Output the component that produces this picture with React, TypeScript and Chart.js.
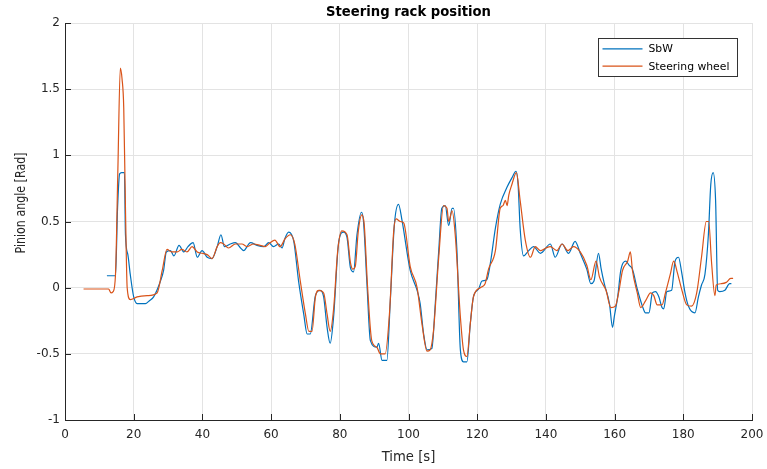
import React, { useEffect, useRef } from "react";
import { Chart, registerables } from "chart.js";

Chart.register(...registerables);

const chartTitle = "Steering rack position";
const xAxisLabel = "Time [s]";
const yAxisLabel = "Pinion angle [Rad]";
const seriesNames = ["SbW", "Steering wheel"];

const sbwTime = [
  12.2, 14.7, 15.3, 15.9, 16.5, 17.3, 17.6, 18.3, 19.0, 20.0, 21.0, 23.4, 24.5, 25.8, 27.8, 28.7,
  29.5, 30.7, 31.7, 33.2, 34.6, 35.8, 37.3, 38.5, 39.9, 41.4, 42.8, 44.3, 45.4, 46.4, 48.1, 49.6,
  51.1, 52.0, 54.0, 55.9, 57.9, 59.3, 60.7, 62.2, 63.2, 64.0, 65.1, 66.6, 68.0, 69.5, 70.5, 71.4,
  72.9, 74.3, 75.3, 76.3, 77.2, 78.2, 79.7, 81.1, 82.1, 83.1, 84.0, 85.0, 86.3, 86.9, 87.9, 88.9,
  90.8, 91.3, 92.3, 93.7, 94.7, 95.9, 97.1, 98.1, 100.5, 102.5, 103.4, 104.4, 105.4, 106.8, 107.8,
  108.8, 109.7, 110.7, 111.7, 112.7, 113.1, 114.1, 115.1, 116.0, 117.0, 118.0, 118.9, 120.4, 121.4,
  122.8, 123.8, 125.3, 126.7, 128.7, 130.1, 131.3, 131.9, 132.5, 133.5, 135.0, 136.4, 138.4, 141.3,
  142.7, 144.7, 146.6, 148.5, 150.0, 151.9, 153.1, 154.0, 155.3, 156.1, 157.0, 158.5, 159.4, 159.9,
  160.9, 161.8, 163.3, 164.2, 165.2, 166.6, 168.1, 169.0, 170.0, 171.0, 171.9, 172.9, 173.8, 174.3,
  175.2, 176.6, 177.6, 178.6, 179.5, 180.5, 181.5, 183.4, 184.4, 185.3, 186.3, 187.3, 188.0, 188.7,
  189.4, 190.0, 190.6, 192.1, 193.5, 194.0,
];
const sbwAngle = [
  0.09, 0.09, 0.6, 0.86, 0.87, 0.87, 0.4, 0.25, 0.1, -0.07, -0.12, -0.12, -0.1, -0.07, 0.05, 0.13,
  0.27, 0.28, 0.24, 0.32, 0.27, 0.31, 0.34, 0.23, 0.28, 0.23, 0.22, 0.31, 0.4, 0.31, 0.33, 0.34,
  0.3, 0.28, 0.34, 0.32, 0.31, 0.34, 0.31, 0.33, 0.3, 0.37, 0.42, 0.35, 0.05, -0.2, -0.35, -0.35,
  -0.06, -0.02, -0.07, -0.3, -0.42, -0.22, 0.35, 0.42, 0.38, 0.15, 0.12, 0.4, 0.57, 0.5, 0.03, -0.4,
  -0.45, -0.42, -0.55, -0.55, -0.1, 0.48, 0.63, 0.51, 0.13, -0.02, -0.12, -0.35, -0.47, -0.46, -0.12,
  0.28, 0.6, 0.62, 0.47, 0.6, 0.6, 0.28, -0.47, -0.56, -0.56, -0.27, -0.07, -0.01, 0.05,
  0.06, 0.18, 0.45, 0.63, 0.76, 0.83, 0.88, 0.78, 0.45, 0.24, 0.28, 0.31, 0.26, 0.33,
  0.23, 0.33, 0.26, 0.35, 0.26, 0.14, 0.03, 0.05, 0.26, 0.14, 0.03, -0.12, -0.3, -0.22,
  -0.07, 0.13, 0.2, 0.17, 0.14, -0.01, -0.14, -0.19, -0.19, -0.04, -0.03, -0.07, -0.15, -0.16,
  -0.03, -0.02, 0.2, 0.23, 0.12, -0.04, -0.14, -0.19, -0.07, 0.02, 0.1, 0.4, 0.78, 0.87,
  0.66, -0.02, -0.03, -0.02, 0.03, 0.03,
];

const wheelTime = [
  5.4, 12.7, 13.4, 14.0, 14.7, 15.4, 16.1, 16.6, 17.1, 17.6, 18.1, 19.0, 21.0, 23.9, 26.8, 28.3,
  29.7, 31.0, 32.7, 34.0, 35.5, 37.0, 38.5, 39.9, 41.4, 42.8, 44.3, 45.2, 46.2, 47.6, 49.6, 51.5,
  53.0, 54.9, 56.8, 58.3, 59.7, 61.1, 62.6, 64.1, 65.6, 66.9, 68.5, 70.0, 71.0, 71.9, 72.9, 73.9,
  75.3, 76.3, 77.2, 78.2, 79.4, 80.6, 82.1, 83.1, 83.8, 84.5, 85.4, 86.4, 87.1, 88.1, 89.3, 90.8,
  91.8, 93.2, 94.5, 95.7, 96.4, 97.6, 98.6, 100.5, 102.5, 103.9, 105.4, 106.3, 107.3, 108.8, 110.2,
  111.2, 111.7, 112.7, 113.6, 115.1, 116.0, 117.0, 118.0, 118.9, 120.9, 122.3, 123.3, 125.3, 126.7,
  127.5, 128.2, 128.7, 129.2, 130.1, 131.4, 132.5, 134.0, 135.5, 136.9, 138.4, 140.0, 141.3, 143.2,
  144.7, 146.4, 148.0, 150.0, 151.9, 153.1, 154.6, 155.6, 157.5, 158.9, 160.2, 161.3, 162.3, 163.8,
  164.6, 165.2, 166.6, 167.6, 169.0, 170.5, 171.4, 172.4, 173.8, 174.8, 176.2, 177.2, 178.2, 179.6,
  181.0, 182.4, 183.9, 185.3, 186.7, 187.4, 188.2, 189.2, 189.6, 191.1, 192.5, 193.8, 194.5,
];
const wheelAngle = [
  -0.01, -0.01, -0.04, -0.03, 0.1, 0.9, 1.66, 1.58, 1.36, 0.6, 0.0, -0.09, -0.07, -0.06, -0.04, 0.13,
  0.29, 0.27, 0.27, 0.29, 0.27, 0.31, 0.27, 0.26, 0.25, 0.22, 0.31, 0.34, 0.33, 0.3, 0.33, 0.33,
  0.31, 0.33, 0.32, 0.31, 0.34, 0.36, 0.31, 0.37, 0.4, 0.33, 0.05, -0.2, -0.33, -0.33, -0.07, -0.02,
  -0.04, -0.2, -0.33, -0.16, 0.28, 0.43, 0.4, 0.19, 0.14, 0.16, 0.43, 0.55, 0.48, 0.0, -0.4, -0.45,
  -0.5, -0.5, -0.18, 0.43, 0.52, 0.5, 0.49, 0.16, 0.0, -0.27, -0.48, -0.47, -0.32, 0.23, 0.62,
  0.6, 0.5, 0.58, 0.4, -0.22, -0.47, -0.52, -0.27, -0.07, 0.0, 0.03, 0.14, 0.28, 0.6,
  0.62, 0.66, 0.62, 0.7, 0.78, 0.87, 0.66, 0.36, 0.23, 0.31, 0.28, 0.3, 0.31, 0.28,
  0.33, 0.28, 0.31, 0.27, 0.17, 0.06, 0.2, 0.08, -0.02, -0.15, -0.14, -0.02, 0.13, 0.2,
  0.27, 0.13, -0.04, -0.15, -0.1, -0.04, -0.06, -0.13, -0.13, -0.04, 0.1, 0.2, 0.12, -0.02,
  -0.13, -0.14, -0.04, 0.23, 0.5, 0.5, 0.2, -0.06, 0.02, 0.03, 0.04, 0.07, 0.07,
];

const FONT = "'DejaVu Sans', 'Liberation Sans', Arial, sans-serif";
const AXIS_COLOR = "#262626";
const GRID_COLOR = "#e3e3e3";
const BLUE = "#0072BD";
const ORANGE = "#D95319";

const innerTicks = {
  id: "innerTicks",
  afterDraw(chart: any) {
    const { ctx, chartArea, scales } = chart;
    ctx.save();
    ctx.strokeStyle = AXIS_COLOR;
    ctx.lineWidth = 1;
    scales.x.ticks.forEach((t: any) => {
      const x = Math.round(scales.x.getPixelForValue(t.value)) + 0.5;
      ctx.beginPath();
      ctx.moveTo(x, chartArea.bottom);
      ctx.lineTo(x, chartArea.bottom - 6);
      ctx.stroke();
    });
    scales.y.ticks.forEach((t: any) => {
      const y = Math.round(scales.y.getPixelForValue(t.value)) + 0.5;
      ctx.beginPath();
      ctx.moveTo(chartArea.left, y);
      ctx.lineTo(chartArea.left + 6, y);
      ctx.stroke();
    });
    ctx.restore();
  },
};

const yLabelPlugin = {
  id: "yLabelPlugin",
  afterDraw(chart: any) {
    const { ctx } = chart;
    ctx.save();
    ctx.translate(21, 203);
    ctx.rotate(-Math.PI / 2);
    ctx.scale(0.82, 1);
    ctx.font = `13.5px ${FONT}`;
    ctx.fillStyle = AXIS_COLOR;
    ctx.textAlign = "center";
    ctx.textBaseline = "middle";
    ctx.fillText(yAxisLabel, 0, 0);
    ctx.restore();
  },
};

const boxedLegend = {
  id: "boxedLegend",
  afterDraw(chart: any) {
    const { ctx, chartArea } = chart;
    const datasets = chart.data.datasets;
    ctx.save();
    ctx.font = `10.8px ${FONT}`;
    let maxW = 0;
    datasets.forEach((d: any) => {
      maxW = Math.max(maxW, ctx.measureText(d.label).width);
    });
    const lineLen = 40;
    const w = Math.round(4 + lineLen + 6 + maxW + 8);
    const rowH = 17.4;
    const edge = 10.3;
    const h = Math.round(edge * 2 + rowH * (datasets.length - 1));
    const x = Math.round(chartArea.right - 15 - w) + 0.5;
    const y = Math.round(chartArea.top + 15) + 0.5;
    ctx.fillStyle = "#ffffff";
    ctx.fillRect(x, y, w, h);
    ctx.strokeStyle = "#333333";
    ctx.lineWidth = 1;
    ctx.strokeRect(x, y, w, h);
    datasets.forEach((d: any, i: number) => {
      const cy = y + edge + rowH * i;
      ctx.strokeStyle = d.borderColor;
      ctx.lineWidth = 1.2;
      ctx.beginPath();
      ctx.moveTo(x + 4, cy);
      ctx.lineTo(x + 4 + lineLen, cy);
      ctx.stroke();
      ctx.fillStyle = "#000000";
      ctx.textBaseline = "middle";
      ctx.textAlign = "left";
      ctx.fillText(d.label, x + 4 + lineLen + 6, cy + 0.5);
    });
    ctx.restore();
  },
};

export default function App() {
  const canvasRef = useRef<HTMLCanvasElement | null>(null);

  useEffect(() => {
    document.body.style.margin = "0";
    const canvas = canvasRef.current;
    if (!canvas) return;
    const chart = new Chart(canvas, {
      type: "line",
      data: {
        datasets: [
          {
            label: seriesNames[0],
            data: sbwTime.map((t, i) => ({ x: t, y: sbwAngle[i] })),
            borderColor: BLUE,
            backgroundColor: BLUE,
            borderWidth: 1.2,
            pointRadius: 0,
            cubicInterpolationMode: "monotone",
            order: 1,
          },
          {
            label: seriesNames[1],
            data: wheelTime.map((t, i) => ({ x: t, y: wheelAngle[i] })),
            borderColor: ORANGE,
            backgroundColor: ORANGE,
            borderWidth: 1.2,
            pointRadius: 0,
            cubicInterpolationMode: "monotone",
            order: 0,
          },
        ],
      },
      options: {
        responsive: false,
        maintainAspectRatio: false,
        animation: false,
        devicePixelRatio: 1,
        layout: { padding: { top: 0, right: 15, bottom: 0, left: 0 } },
        plugins: {
          legend: { display: false },
          tooltip: { enabled: false },
          title: {
            display: true,
            text: chartTitle,
            fullSize: false,
            color: "#000000",
            font: { family: FONT, size: 13.2, weight: "bold", lineHeight: 1.2 },
            padding: { top: 5, bottom: 2.2 },
          },
        },
        scales: {
          x: {
            type: "linear",
            min: 0,
            max: 200,
            ticks: {
              stepSize: 20,
              color: AXIS_COLOR,
              font: { family: FONT, size: 12 },
              padding: 8,
              maxRotation: 0,
            },
            grid: { color: GRID_COLOR, drawTicks: false },
            border: { display: true, color: AXIS_COLOR, width: 1 },
            title: {
              display: true,
              text: xAxisLabel,
              color: AXIS_COLOR,
              font: { family: FONT, size: 13.2, lineHeight: 1.2 },
              padding: { top: 0, bottom: 4 },
            },
            afterFit(scale: any) {
              scale.height = 49;
              scale.paddingLeft = 0;
              scale.paddingRight = 0;
            },
          },
          y: {
            type: "linear",
            min: -1,
            max: 2,
            ticks: {
              stepSize: 0.5,
              color: AXIS_COLOR,
              font: { family: FONT, size: 12 },
              padding: 5,
              callback: (v: any) => String(Number(v)),
            },
            grid: { color: GRID_COLOR, drawTicks: false },
            border: { display: true, color: AXIS_COLOR, width: 1 },
            title: { display: false },
            afterFit(scale: any) {
              scale.width = 65;
              scale.paddingTop = 0;
              scale.paddingBottom = 0;
            },
          },
        },
      },
      plugins: [innerTicks, yLabelPlugin, boxedLegend],
    });
    return () => chart.destroy();
  }, []);

  return (
    <div style={{ width: 767, height: 469, background: "#ffffff" }}>
      <canvas ref={canvasRef} width={767} height={469} style={{ display: "block" }} />
    </div>
  );
}
